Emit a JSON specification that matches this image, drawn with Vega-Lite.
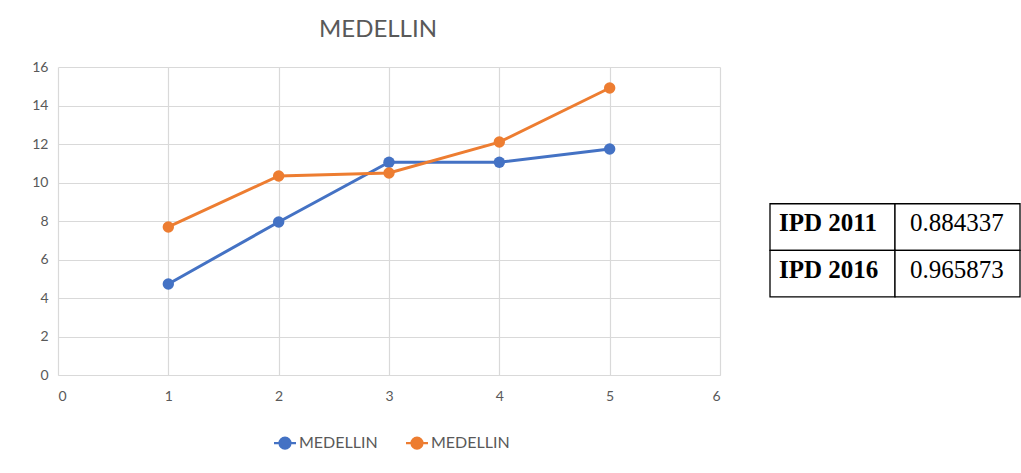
{
  "$schema": "https://vega.github.io/schema/vega-lite/v6.json",
  "padding": {"left": 31, "top": 18, "right": 0, "bottom": 0},
  "background": "white",
  "spacing": 49,
  "config": {
    "font": "Lato",
    "view": {"stroke": null},
    "axis": {"labelFont": "Lato", "labelFontSize": 14, "labelColor": "#595959", "gridColor": "#d9d9d9", "gridWidth": 1.2, "ticks": false, "title": null}
  },
  "hconcat": [
    {
      "width": 662,
      "height": 308,
      "title": {"text": "MEDELLIN", "font": "Lato", "fontSize": 24, "fontWeight": "normal", "color": "#595959", "offset": 18, "dx": -11},
      "data": {"values": [
        {"x": 1, "y": 4.73, "serie": "A"},
        {"x": 2, "y": 7.95, "serie": "A"},
        {"x": 3, "y": 11.05, "serie": "A"},
        {"x": 4, "y": 11.05, "serie": "A"},
        {"x": 5, "y": 11.74, "serie": "A"},
        {"x": 1, "y": 7.69, "serie": "B"},
        {"x": 2, "y": 10.34, "serie": "B"},
        {"x": 3, "y": 10.49, "serie": "B"},
        {"x": 4, "y": 12.1, "serie": "B"},
        {"x": 5, "y": 14.91, "serie": "B"}
      ]},
      "encoding": {
        "x": {"field": "x", "type": "quantitative", "scale": {"domain": [0, 6], "nice": false}, "axis": {"values": [0, 1, 2, 3, 4, 5, 6], "grid": true, "domain": true, "domainColor": "#d9d9d9", "domainWidth": 1.2, "labelPadding": 14}},
        "y": {"field": "y", "type": "quantitative", "scale": {"domain": [0, 16], "nice": false}, "axis": {"values": [0, 2, 4, 6, 8, 10, 12, 14, 16], "grid": true, "domain": false, "labelPadding": 10}},
        "color": {
          "field": "serie", "type": "nominal",
          "scale": {"domain": ["A", "B"], "range": ["#4472C4", "#ED7D31"]},
          "legend": {
            "orient": "none", "legendX": 219, "legendY": 368, "direction": "horizontal", "title": null, "padding": 0,
            "labelExpr": "'MEDELLIN'", "labelFont": "Lato", "labelFontSize": 16, "labelColor": "#595959", "labelOffset": 6,
            "columnPadding": 23,
            "symbolType": "M-2,0L2,0M1,0A1,1,0,1,1,-1,0A1,1,0,1,1,1,0Z",
            "symbolSize": 121, "symbolStrokeWidth": 2.2,
            "encode": {"symbols": {"update": {"stroke": {"scale": "color", "field": "value"}, "fill": {"scale": "color", "field": "value"}, "opacity": {"value": 1}}}}
          }
        }
      },
      "layer": [
        {"mark": {"type": "line", "strokeWidth": 3}},
        {"mark": {"type": "circle", "size": 130, "opacity": 1}}
      ]
    },
    {
      "width": 250,
      "height": 308,
      "data": {"values": [
        {"row": "r1", "col": "a", "text": "IPD 2011"},
        {"row": "r1", "col": "b", "text": "0.884337"},
        {"row": "r2", "col": "a", "text": "IPD 2016"},
        {"row": "r2", "col": "b", "text": "0.965873"}
      ]},
      "encoding": {
        "y": {"field": "row", "type": "nominal", "scale": {"type": "band", "domain": ["t1", "t2", "r1", "r2", "b1"], "paddingInner": 0, "paddingOuter": 0.81, "align": 0.58}, "axis": null},
        "x": {"field": "col", "type": "nominal", "sort": null, "scale": {"type": "band", "paddingInner": 0, "paddingOuter": 0}, "axis": null}
      },
      "layer": [
        {"mark": {"type": "rect", "fill": "white", "stroke": "black", "strokeWidth": 1.3}},
        {
          "transform": [{"filter": "datum.col === 'a'"}],
          "mark": {"type": "text", "align": "left", "baseline": "alphabetic", "dx": 9, "dy": 4, "font": "Liberation Serif", "fontSize": 25, "fontWeight": "bold", "color": "black"},
          "encoding": {"x": {"field": "col", "type": "nominal", "bandPosition": 0}, "text": {"field": "text"}}
        },
        {
          "transform": [{"filter": "datum.col === 'b'"}],
          "mark": {"type": "text", "align": "left", "baseline": "alphabetic", "dx": 15, "dy": 4, "font": "Liberation Serif", "fontSize": 25, "fontWeight": "normal", "color": "black"},
          "encoding": {"x": {"field": "col", "type": "nominal", "bandPosition": 0}, "text": {"field": "text"}}
        }
      ]
    }
  ]
}
